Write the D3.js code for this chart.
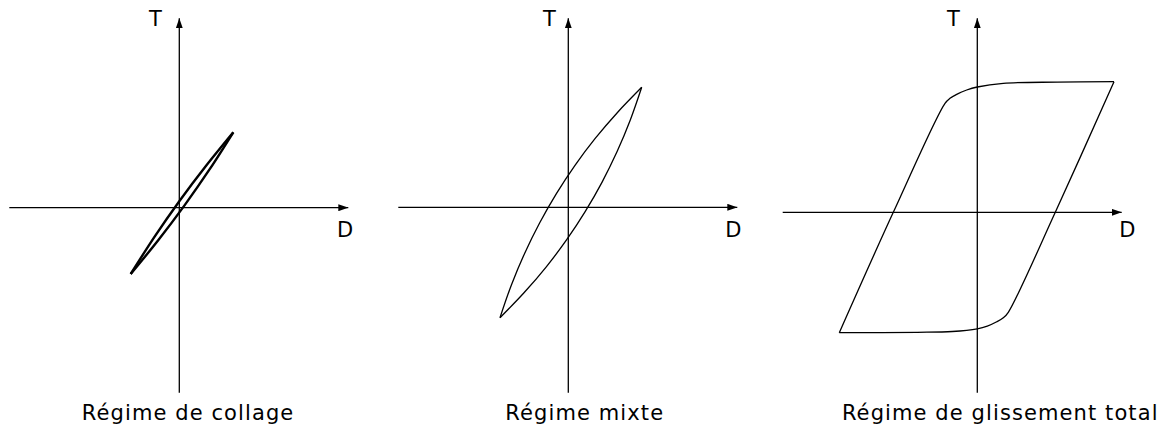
<!DOCTYPE html>
<html>
<head>
<meta charset="utf-8">
<script src="https://cdn.jsdelivr.net/npm/d3@7/dist/d3.min.js"></script>
<style>
  html, body { margin: 0; padding: 0; background: #fff; }
  svg { display: block; }
  text { font-family: "DejaVu Sans", Verdana, sans-serif; fill: #000; }
</style>
</head>
<body>
<svg id="chart" width="1169" height="443"></svg>
<script>
// ---------- DATA (hysteresis loops, D = displacement, T = tangential force) ----------
const captions = ["Régime de collage", "Régime mixte", "Régime de glissement total"];
const axisLabelX = "D";
const axisLabelY = "T";

// Panel 1 : collage (thin loop)
const collageUpperD = [-4.86, -2.50, 0.00, 2.64, 5.40];
const collageUpperT = [-6.63, -2.94, 0.65, 4.14, 7.54];
const collageLowerD = [5.40, 3.04, 0.54, -2.09, -4.86];
const collageLowerT = [7.54, 3.85, 0.26, -3.23, -6.63];

// Panel 2 : mixte (lens-shaped loop)
const mixteUpperD = [-6.83, -5.69, -4.37, -2.87, -1.19, 0.67, 2.71, 4.94, 7.34];
const mixteUpperT = [-11.04, -7.77, -4.61, -1.57, 1.37, 4.20, 6.91, 9.51, 12.00];
const mixteLowerD = [7.34, 6.20, 4.88, 3.38, 1.70, -0.16, -2.20, -4.43, -6.83];
const mixteLowerT = [12.00, 8.73, 5.57, 2.52, -0.41, -3.24, -5.95, -8.55, -11.04];

// Panel 3 : glissement total (parallelogram loop)
const glissUpperD = [-13.8, -8.4, -3.23, -2.73, -2.06, -1.06, 0, 2.6, 8.0, 13.67];
const glissUpperT = [-12.04, 0, 10.9, 11.4, 11.8, 12.23, 12.53, 12.9, 13.02, 13.06];
const glissLowerD = [13.67, 7.8, 3.1, 2.6, 1.95, 1.0, 0, -2.5, -6.0, -13.8];
const glissLowerT = [13.06, 0, -10.0, -10.55, -10.95, -11.38, -11.65, -11.92, -12.0, -12.04];

// ---------- LAYOUT ----------
const layout = [
  { ox: 179.3, oy: 207.7, left: 9.3,   right: 348.3,  top: 18.3, bottom: 392.7, tx: 155.3, dx: 345.0,  cx: 187.5, stroke: 2.4 },
  { ox: 568.3, oy: 207.3, left: 398.3, right: 737.3,  top: 18.3, bottom: 392.7, tx: 549.5, dx: 733.3,  cx: 584.2, stroke: 1.3 },
  { ox: 977.3, oy: 212.3, left: 782.7, right: 1121.7, top: 18.3, bottom: 392.7, tx: 953.3, dx: 1127.3, cx: 999.7, stroke: 1.3 }
];
const unitPx = 10; // pixels per data unit

const loops = [
  [d3.zip(collageUpperD, collageUpperT), d3.zip(collageLowerD, collageLowerT)],
  [d3.zip(mixteUpperD, mixteUpperT), d3.zip(mixteLowerD, mixteLowerT)],
  [d3.zip(glissUpperD, glissUpperT), d3.zip(glissLowerD, glissLowerT)]
];

const svg = d3.select("#chart");

// arrow marker
const defs = svg.append("defs");
defs.append("marker")
  .attr("id", "arrow")
  .attr("viewBox", "0 0 10 7")
  .attr("refX", 10).attr("refY", 3.5)
  .attr("markerWidth", 10).attr("markerHeight", 7)
  .attr("markerUnits", "userSpaceOnUse")
  .attr("orient", "auto")
  .append("path")
  .attr("d", "M0,0 L10,3.5 L0,7 Z")
  .attr("fill", "#000");

layout.forEach((p, i) => {
  const x = d3.scaleLinear().domain([0, 1]).range([p.ox, p.ox + unitPx]);
  const y = d3.scaleLinear().domain([0, 1]).range([p.oy, p.oy - unitPx]);
  const g = svg.append("g");

  // axes
  g.append("line")
    .attr("x1", p.left).attr("y1", y(0))
    .attr("x2", p.right).attr("y2", y(0))
    .attr("stroke", "#000").attr("stroke-width", 1.3)
    .attr("marker-end", "url(#arrow)");
  g.append("line")
    .attr("x1", x(0)).attr("y1", p.bottom)
    .attr("x2", x(0)).attr("y2", p.top)
    .attr("stroke", "#000").attr("stroke-width", 1.3)
    .attr("marker-end", "url(#arrow)");

  // loop branches
  const line = d3.line()
    .x(d => x(d[0]))
    .y(d => y(d[1]))
    .curve(d3.curveCatmullRom.alpha(0.5));
  g.selectAll("path.branch")
    .data(loops[i])
    .join("path")
    .attr("class", "branch")
    .attr("d", line)
    .attr("fill", "none")
    .attr("stroke", "#000")
    .attr("stroke-width", p.stroke)
    .attr("stroke-linejoin", "round");

  // labels
  g.append("text")
    .attr("x", p.tx).attr("y", 26)
    .attr("text-anchor", "middle")
    .style("font-size", "21px")
    .text(axisLabelY);
  g.append("text")
    .attr("x", p.dx).attr("y", 237)
    .attr("text-anchor", "middle")
    .style("font-size", "21px")
    .text(axisLabelX);
  g.append("text")
    .attr("x", p.cx + 0.55).attr("y", 420)
    .attr("text-anchor", "middle")
    .style("font-size", "21px")
    .style("letter-spacing", "1.1px")
    .text(captions[i]);
});
</script>
</body>
</html>
